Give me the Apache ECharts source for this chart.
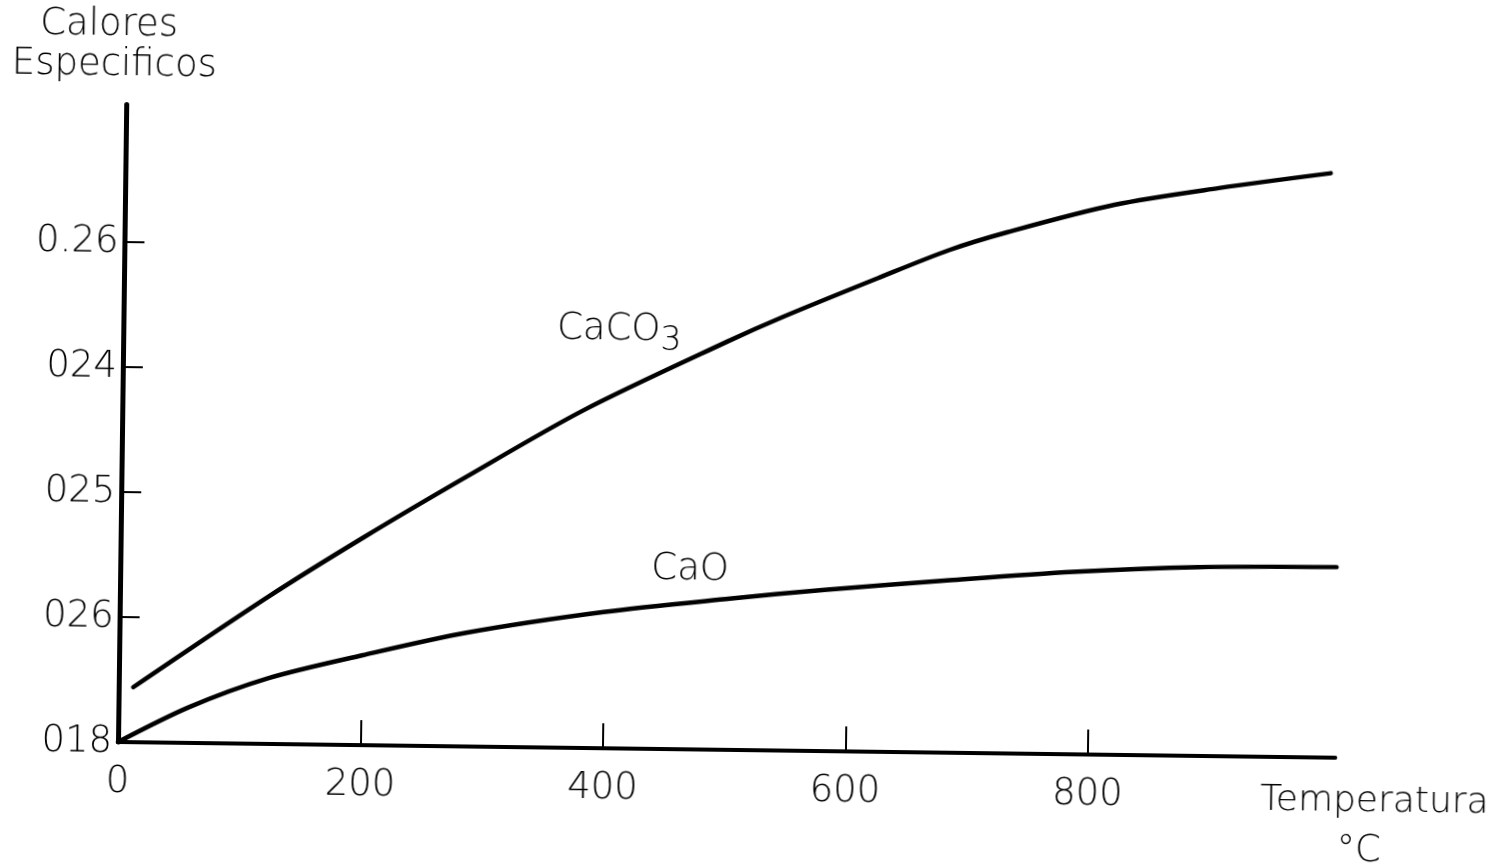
<!DOCTYPE html>
<html>
<head>
<meta charset="utf-8">
<script src="https://cdn.jsdelivr.net/npm/echarts@6/dist/echarts.min.js"></script>
<style>
  html, body { margin: 0; padding: 0; background: #fff; }
  /* the drawing sits slightly turned, as on the printed page */
  #chart { width: 1500px; height: 867px; transform-origin: 118px 742px; transform: rotate(0.74deg); }
</style>
</head>
<body>
<div id="chart"></div>
<script>
// Temperature (°C) and specific heat readings
const caco3Temp = [12, 122, 200, 284, 381, 498, 544, 622, 680, 728, 816, 902, 994];
const caco3Heat = [0.1888, 0.2035, 0.2132, 0.2231, 0.2341, 0.2453, 0.2494, 0.2558, 0.2604, 0.2634, 0.2680, 0.2709, 0.2735];

const caoTemp = [0, 58, 123, 201, 286, 399, 503, 581, 684, 786, 889, 1003];
const caoHeat = [0.1800, 0.1857, 0.1905, 0.1944, 0.1982, 0.2018, 0.2042, 0.2058, 0.2076, 0.2092, 0.2102, 0.2105];

// axis ticks and their printed labels
const xTickValues = [200, 400, 600, 800];
const xLabelValues = [0, 200, 400, 600, 800];
const yTickValues = [0.20, 0.22, 0.24, 0.26];
const yLabelValues = [0.18, 0.20, 0.22, 0.24, 0.26];
const yLabelTexts = ['018', '026', '025', '024', '0.26'];

const FONT = '"DejaVu Sans", "Open Sans", sans-serif';
const WEIGHT = 200;
const SIZE = 37;
const pair = (xs, ys) => xs.map((x, i) => [x, ys[i]]);

const chart = echarts.init(document.getElementById('chart'), null, { renderer: 'canvas' });

chart.setOption({
  backgroundColor: '#fff',
  animation: false,
  grid: { left: 118, top: 104.5, width: 1217.4, height: 637.5, containLabel: false },
  xAxis: {
    type: 'value',
    min: 0,
    max: 1004,
    splitLine: { show: false },
    axisLine: { show: true, lineStyle: { color: '#000', width: 4 } },
    axisTick: { show: true, inside: true, length: 25, customValues: xTickValues, lineStyle: { color: '#000', width: 2 } },
    axisLabel: {
      customValues: xLabelValues,
      margin: 22,
      color: '#000',
      fontFamily: FONT,
      fontWeight: WEIGHT,
      fontSize: SIZE
    }
  },
  yAxis: {
    type: 'value',
    min: 0.18,
    max: 0.282,
    splitLine: { show: false },
    axisLine: { show: true, lineStyle: { color: '#000', width: 5 } },
    axisTick: { show: true, inside: true, length: 20, customValues: yTickValues, lineStyle: { color: '#000', width: 2 } },
    axisLabel: {
      customValues: yLabelValues,
      margin: 6,
      color: '#000',
      fontFamily: FONT,
      fontWeight: WEIGHT,
      fontSize: SIZE,
      formatter: function (v) {
        const i = yLabelValues.findIndex(t => Math.abs(t - v) < 1e-6);
        return i >= 0 ? yLabelTexts[i] : '';
      }
    }
  },
  series: [
    {
      name: 'CaCO3',
      type: 'line',
      data: pair(caco3Temp, caco3Heat),
      smooth: 0.3,
      symbol: 'none',
      lineStyle: { color: '#000', width: 4.5, cap: 'round' },
      markPoint: {
        symbol: 'circle',
        symbolSize: 0,
        data: [{ coord: [409, 0.2470] }],
        label: {
          show: true,
          position: 'inside',
          formatter: 'CaCO{s|3}',
          color: '#000',
          fontFamily: FONT,
          fontWeight: WEIGHT,
          fontSize: SIZE,
          rich: { s: { fontFamily: FONT, fontWeight: WEIGHT, fontSize: 33, color: '#000', padding: [22, 0, 0, 0] } }
        }
      }
    },
    {
      name: 'CaO',
      type: 'line',
      data: pair(caoTemp, caoHeat),
      smooth: 0.3,
      symbol: 'none',
      lineStyle: { color: '#000', width: 4.5, cap: 'round' },
      markPoint: {
        symbol: 'circle',
        symbolSize: 0,
        data: [{ coord: [470, 0.2087] }],
        label: {
          show: true,
          position: 'inside',
          formatter: 'CaO',
          color: '#000',
          fontFamily: FONT,
          fontWeight: WEIGHT,
          fontSize: SIZE
        }
      }
    }
  ],
  graphic: [
    { type: 'text', left: 31, top: 7, style: { text: 'Calores', fill: '#000', font: WEIGHT + ' ' + SIZE + 'px ' + FONT } },
    { type: 'text', left: 3, top: 47, style: { text: 'Especificos', fill: '#000', font: WEIGHT + ' ' + SIZE + 'px ' + FONT } },
    { type: 'text', x: 1375, y: 786, style: { text: 'Temperatura', fill: '#000', font: WEIGHT + ' 36px ' + FONT, textAlign: 'center', textVerticalAlign: 'middle' } },
    { type: 'text', x: 1360, y: 835, style: { text: '°C', fill: '#000', font: WEIGHT + ' ' + SIZE + 'px ' + FONT, textAlign: 'center', textVerticalAlign: 'middle' } }
  ]
});
</script>
</body>
</html>
